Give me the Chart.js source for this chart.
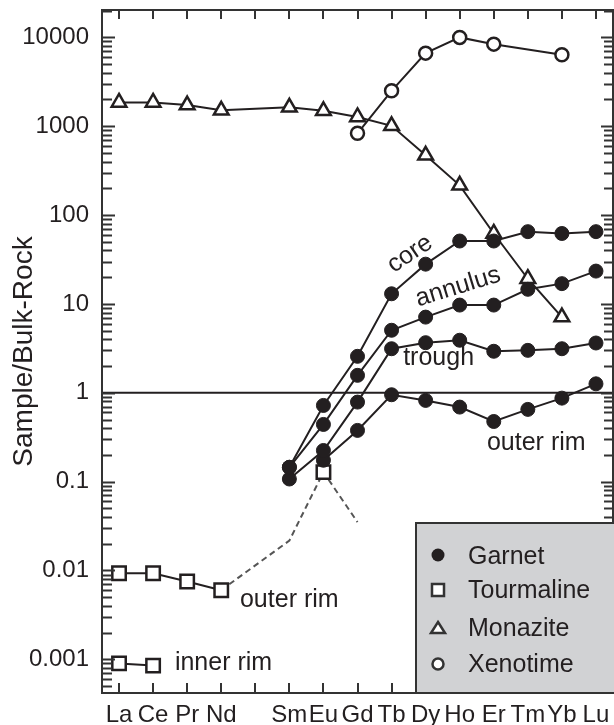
<!DOCTYPE html>
<html>
<head>
<meta charset="utf-8">
<script src="https://cdn.jsdelivr.net/npm/chart.js@4.4.1/dist/chart.umd.min.js"></script>
<style>
  html, body { margin: 0; padding: 0; background: #fff; }
  canvas { display: block; }
</style>
</head>
<body>
<canvas id="plot" width="614" height="725"></canvas>
<script>
// REE, normalised to bulk rock. Index 4 (Pm) is left empty.
const elements = ['La', 'Ce', 'Pr', 'Nd', '', 'Sm', 'Eu', 'Gd', 'Tb', 'Dy', 'Ho', 'Er', 'Tm', 'Yb', 'Lu'];

const garnetCore     = [null, null, null, null, null, 0.145, 0.72, 2.57, 13.0, 28, 51, 51, 65, 62, 65];
const garnetAnnulus  = [null, null, null, null, null, 0.145, 0.44, 1.57, 5.05, 7.1, 9.7, 9.7, 14.6, 16.9, 23.4];
const garnetTrough   = [null, null, null, null, null, 0.107, 0.224, 0.785, 3.13, 3.66, 3.9, 2.93, 3.0, 3.13, 3.63];
const garnetOuterRim = [null, null, null, null, null, null, 0.174, 0.377, 0.95, 0.82, 0.69, 0.475, 0.65, 0.87, 1.26];

const tourmalineOuterRim = [0.0093, 0.0093, 0.0075, 0.006, null, null, null, null, null, null, null, null, null, null, null];
const tourmalineEu       = [null, null, null, null, null, null, 0.128, null, null, null, null, null, null, null, null];
const tourmalineDashed   = [null, null, null, 0.006, null, 0.0217, 0.128, 0.035, null, null, null, null, null, null, null];
const tourmalineInnerRim = [0.0009, 0.00085, null, null, null, null, null, null, null, null, null, null, null, null, null];

const monazite = [1850, 1850, 1730, 1510, null, 1630, 1490, 1270, 1010, 470, 216, 62, 19.2, 7.1, null];
const xenotime = [null, null, null, null, null, null, null, 832, 2500, 6640, 9980, 8380, null, 6370, null];

const yMin = 0.000418;
const yMax = 20300;

const INK = '#231f20';
const FONT = "'Liberation Sans', Arial, Helvetica, sans-serif";
Chart.defaults.font.family = FONT;
Chart.defaults.color = INK;

function toPoints(values) {
  const pts = [];
  values.forEach(function(v, i) {
    if (v !== null) pts.push({x: i, y: v});
  });
  return pts;
}

function series(label, values, opts) {
  return Object.assign({
    label,
    data: toPoints(values),
    borderColor: INK,
    borderWidth: 2,
    tension: 0,
    pointRadius: 0,
    pointBackgroundColor: INK,
    pointBorderColor: INK,
    pointBorderWidth: 1,
    order: 5,
  }, opts);
}

const garnetStyle = {pointStyle: 'circle', pointRadius: 7, order: 2};
const squareStyle = {pointStyle: 'rect', pointRadius: 9.5, pointBackgroundColor: '#fff', pointBorderWidth: 2.5, order: 3};

const datasets = [
  series('core', garnetCore, garnetStyle),
  series('annulus', garnetAnnulus, garnetStyle),
  series('trough', garnetTrough, garnetStyle),
  series('outer rim', garnetOuterRim, garnetStyle),
  series('tourmaline dashed', tourmalineDashed, {borderColor: '#555', borderDash: [6, 4], order: 6}),
  series('tourmaline outer rim', tourmalineOuterRim, squareStyle),
  series('tourmaline Eu', tourmalineEu, Object.assign({}, squareStyle, {showLine: false, order: 4})),
  series('tourmaline inner rim', tourmalineInnerRim, squareStyle),
  series('monazite', monazite, {pointStyle: 'triangle', pointRadius: 8.5, pointBackgroundColor: '#fff', pointBorderWidth: 2.5, order: 3}),
  series('xenotime', xenotime, {pointStyle: 'circle', pointRadius: 6.5, pointBackgroundColor: '#fff', pointBorderWidth: 2.5, order: 3}),
];
// unity reference line across the whole plot
datasets.push(Object.assign(series('one', [], {}), {data: [{x: -0.5, y: 1}, {x: 14.5, y: 1}], order: 7}));

function isDecade(v) {
  const l = Math.log10(v);
  return Math.abs(l - Math.round(l)) < 1e-9;
}

const labels = [
  {text: 'core', x: 8.54, y: 36.4, rot: -34, align: 'center', base: 'middle'},
  {text: 'annulus', x: 9.95, y: 15.5, rot: -17, align: 'center', base: 'middle'},
  {text: 'trough', x: 8.34, y: 2.05, rot: 0, align: 'left', base: 'alphabetic'},
  {text: 'outer rim', x: 10.8, y: 0.227, rot: 0, align: 'left', base: 'alphabetic'},
  {text: 'outer rim', x: 3.55, y: 0.00388, rot: 0, align: 'left', base: 'alphabetic'},
  {text: 'inner rim', x: 1.64, y: 0.000757, rot: 0, align: 'left', base: 'alphabetic'},
];

const framePlugin = {
  id: 'frame',
  afterDatasetsDraw: (chart) => {
    const ctx = chart.ctx;
    const xs = chart.scales.x;
    const ys = chart.scales.y;
    const a = chart.chartArea;
    ctx.save();
    ctx.fillStyle = INK;
    ctx.font = '25px ' + FONT;
    labels.forEach(function(l) {
      ctx.save();
      ctx.translate(xs.getPixelForValue(l.x), ys.getPixelForValue(l.y));
      ctx.rotate(l.rot * Math.PI / 180);
      ctx.textAlign = l.align;
      ctx.textBaseline = l.base;
      ctx.fillText(l.text, 0, 0);
      ctx.restore();
    });

    ctx.strokeStyle = '#333';
    ctx.lineWidth = 2;
    ctx.beginPath();
    ys.ticks.forEach(function(t) {
      const y = Math.round(ys.getPixelForValue(t.value)) + 0.5;
      const major = isDecade(t.value);
      ctx.moveTo(a.left, y);
      ctx.lineTo(a.left + (major ? 13 : 10), y);
      ctx.moveTo(a.right, y);
      ctx.lineTo(a.right - (major ? 12 : 9), y);
    });
    xs.ticks.forEach(function(t) {
      const x = Math.round(xs.getPixelForValue(t.value));
      ctx.moveTo(x, a.top);
      ctx.lineTo(x, a.top + 9);
      ctx.moveTo(x, a.bottom);
      ctx.lineTo(x, a.bottom - 10);
    });
    ctx.stroke();
    ctx.strokeRect(a.left, a.top, a.right - a.left, a.bottom - a.top);

    // legend box
    const bx = a.right - 197;
    const by = a.bottom - 170;
    ctx.fillStyle = '#d1d2d4';
    ctx.fillRect(bx, by, a.right - bx + 2, a.bottom - by);
    ctx.strokeRect(bx, by, a.right - bx + 2, a.bottom - by);

    const mx = bx + 22;
    const tx = bx + 52;
    ctx.fillStyle = INK;
    ctx.textAlign = 'left';
    ctx.textBaseline = 'alphabetic';
    ctx.fillText('Garnet', tx, by + 41);
    ctx.fillText('Tourmaline', tx, by + 75);
    ctx.fillText('Monazite', tx, by + 113);
    ctx.fillText('Xenotime', tx, by + 149);

    ctx.lineWidth = 2.5;
    ctx.beginPath();
    ctx.arc(mx, by + 32, 6.5, 0, Math.PI * 2);
    ctx.fill();
    ctx.fillStyle = '#fff';
    ctx.fillRect(mx - 6, by + 61, 12, 12);
    ctx.strokeRect(mx - 6, by + 61, 12, 12);
    ctx.beginPath();
    ctx.moveTo(mx, by + 99);
    ctx.lineTo(mx + 7, by + 110);
    ctx.lineTo(mx - 7, by + 110);
    ctx.closePath();
    ctx.fill();
    ctx.stroke();
    ctx.beginPath();
    ctx.arc(mx, by + 141, 5.5, 0, Math.PI * 2);
    ctx.fill();
    ctx.stroke();
    ctx.restore();
  }
};

function noPadding(scale) {
  scale.paddingTop = 0;
  scale.paddingBottom = 0;
  scale.paddingLeft = 0;
  scale.paddingRight = 0;
}

const chart = new Chart(document.getElementById('plot').getContext('2d'), {
  type: 'line',
  plugins: [framePlugin],
  data: {datasets},
  options: {
    responsive: false,
    animation: false,
    devicePixelRatio: 1,
    events: [],
    layout: {autoPadding: false, padding: {top: 10, right: 1, left: 0, bottom: 0}},
    plugins: {legend: {display: false}, tooltip: {enabled: false}},
    scales: {
      x: {
        type: 'linear',
        min: -0.5,
        max: 14.5,
        grid: {display: false},
        border: {display: false},
        afterBuildTicks: (scale) => {
          scale.ticks = elements.map(function(e, i) { return {value: i}; });
        },
        afterFit: (scale) => { scale.height = 32; noPadding(scale); },
        ticks: {
          autoSkip: false,
          maxRotation: 0,
          padding: 0,
          color: INK,
          font: {size: 24},
          callback: (v) => elements[v],
        },
      },
      y: {
        type: 'logarithmic',
        min: yMin,
        max: yMax,
        grid: {display: false},
        border: {display: false},
        afterBuildTicks: (scale) => {
          const t = [];
          for (let e = -4; e <= 4; e++) {
            for (let s = 1; s <= 9; s++) {
              const v = s * Math.pow(10, e);
              if (v >= yMin && v <= yMax) t.push({value: v});
            }
          }
          scale.ticks = t;
        },
        afterFit: (scale) => { scale.width = 102; noPadding(scale); },
        title: {
          display: true,
          text: 'Sample/Bulk-Rock',
          color: INK,
          font: {size: 28},
          padding: {top: 7, bottom: 0},
        },
        ticks: {
          autoSkip: false,
          padding: 5,
          color: INK,
          font: {size: 24},
          callback: (v) => {
            if (!isDecade(v)) return '';
            const e = Math.round(Math.log10(v));
            return e >= 0 ? String(Math.pow(10, e)) : Math.pow(10, e).toFixed(-e);
          },
        },
      },
    },
  },
});
</script>
</body>
</html>
